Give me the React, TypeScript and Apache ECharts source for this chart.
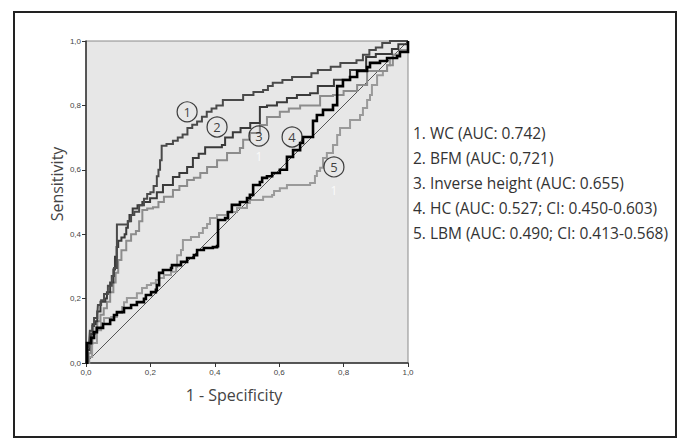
import React, { useEffect, useRef } from "react";
import * as echarts from "echarts";

// ROC curves: [1 - specificity, sensitivity]
const wcPoints: number[][] = [
  [0,0],[0.003,0.05],[0.01,0.07],[0.012,0.10],[0.02,0.115],[0.025,0.14],[0.035,0.15],[0.037,0.18],[0.047,0.195],[0.056,0.214],[0.068,0.24],[0.08,0.27],[0.087,0.295],[0.096,0.31],[0.096,0.43],[0.127,0.43],[0.13,0.44],[0.14,0.46],[0.15,0.47],[0.165,0.49],[0.18,0.51],[0.19,0.525],[0.2,0.53],[0.21,0.55],[0.22,0.58],[0.225,0.6],[0.23,0.63],[0.235,0.675],[0.25,0.68],[0.27,0.69],[0.285,0.70],[0.30,0.71],[0.315,0.73],[0.33,0.74],[0.345,0.75],[0.36,0.765],[0.375,0.78],[0.39,0.79],[0.405,0.80],[0.425,0.817],[0.48,0.817],[0.488,0.832],[0.52,0.842],[0.55,0.848],[0.565,0.86],[0.58,0.87],[0.61,0.879],[0.64,0.888],[0.686,0.888],[0.70,0.90],[0.72,0.91],[0.76,0.92],[0.79,0.932],[0.84,0.94],[0.86,0.957],[0.88,0.972],[0.90,0.98],[0.92,0.994],[0.944,1.0],[1,1]
];
const bfmPoints: number[][] = [
  [0,0],[0.005,0.04],[0.01,0.06],[0.015,0.09],[0.02,0.12],[0.03,0.13],[0.035,0.16],[0.045,0.19],[0.06,0.20],[0.065,0.22],[0.075,0.25],[0.085,0.29],[0.09,0.33],[0.095,0.36],[0.1,0.38],[0.11,0.39],[0.12,0.40],[0.125,0.42],[0.13,0.44],[0.135,0.46],[0.145,0.48],[0.16,0.49],[0.175,0.50],[0.199,0.512],[0.22,0.53],[0.239,0.553],[0.27,0.578],[0.29,0.59],[0.314,0.609],[0.332,0.637],[0.35,0.65],[0.37,0.67],[0.422,0.677],[0.432,0.70],[0.456,0.717],[0.48,0.73],[0.51,0.745],[0.54,0.755],[0.54,0.795],[0.562,0.80],[0.593,0.81],[0.624,0.823],[0.655,0.832],[0.696,0.838],[0.72,0.86],[0.77,0.88],[0.82,0.91],[0.87,0.95],[0.90,0.96],[0.95,0.975],[0.97,0.99],[1,1]
];
const invHeightPoints: number[][] = [
  [0,0],[0.008,0.03],[0.015,0.06],[0.02,0.09],[0.03,0.11],[0.035,0.13],[0.045,0.15],[0.055,0.17],[0.065,0.19],[0.075,0.22],[0.085,0.25],[0.092,0.28],[0.1,0.32],[0.11,0.35],[0.125,0.38],[0.14,0.40],[0.155,0.41],[0.165,0.44],[0.175,0.475],[0.19,0.48],[0.208,0.484],[0.225,0.50],[0.242,0.516],[0.27,0.537],[0.29,0.55],[0.314,0.568],[0.335,0.575],[0.355,0.59],[0.376,0.609],[0.407,0.63],[0.438,0.652],[0.478,0.668],[0.488,0.693],[0.509,0.714],[0.54,0.739],[0.562,0.764],[0.602,0.78],[0.63,0.79],[0.665,0.80],[0.696,0.80],[0.727,0.829],[0.767,0.832],[0.80,0.845],[0.842,0.863],[0.873,0.907],[0.935,0.925],[0.953,0.957],[0.975,0.969],[1,1]
];
const hcPoints: number[][] = [
  [0,0],[0.003,0.062],[0.016,0.078],[0.025,0.096],[0.034,0.109],[0.053,0.121],[0.075,0.134],[0.087,0.149],[0.096,0.158],[0.118,0.171],[0.14,0.18],[0.158,0.189],[0.18,0.199],[0.186,0.211],[0.202,0.22],[0.217,0.227],[0.22,0.242],[0.227,0.28],[0.239,0.289],[0.264,0.295],[0.267,0.304],[0.295,0.314],[0.314,0.326],[0.335,0.335],[0.345,0.351],[0.366,0.357],[0.394,0.36],[0.407,0.363],[0.41,0.444],[0.432,0.45],[0.441,0.469],[0.453,0.491],[0.478,0.50],[0.5,0.512],[0.509,0.522],[0.519,0.553],[0.54,0.562],[0.547,0.575],[0.562,0.58],[0.578,0.59],[0.602,0.60],[0.624,0.64],[0.643,0.661],[0.665,0.683],[0.674,0.702],[0.705,0.752],[0.717,0.77],[0.736,0.786],[0.767,0.801],[0.78,0.823],[0.78,0.86],[0.798,0.879],[0.82,0.888],[0.842,0.907],[0.873,0.919],[0.882,0.932],[0.913,0.938],[0.935,0.947],[0.966,0.953],[0.975,0.966],[1,1]
];
const lbmPoints: number[][] = [
  [0,0],[0.01,0.019],[0.019,0.062],[0.034,0.102],[0.047,0.124],[0.056,0.14],[0.078,0.143],[0.096,0.155],[0.112,0.174],[0.118,0.189],[0.127,0.202],[0.158,0.217],[0.174,0.233],[0.189,0.242],[0.202,0.248],[0.217,0.258],[0.227,0.264],[0.242,0.273],[0.264,0.283],[0.28,0.298],[0.283,0.335],[0.295,0.351],[0.301,0.382],[0.326,0.391],[0.351,0.404],[0.363,0.419],[0.376,0.432],[0.385,0.45],[0.407,0.46],[0.438,0.469],[0.469,0.481],[0.5,0.497],[0.509,0.506],[0.547,0.506],[0.55,0.516],[0.578,0.522],[0.584,0.534],[0.602,0.543],[0.624,0.553],[0.696,0.559],[0.711,0.581],[0.717,0.596],[0.727,0.606],[0.736,0.637],[0.748,0.652],[0.767,0.677],[0.78,0.708],[0.789,0.73],[0.82,0.755],[0.851,0.77],[0.86,0.792],[0.873,0.817],[0.882,0.832],[0.888,0.863],[0.904,0.894],[0.922,0.907],[0.935,0.925],[0.944,0.947],[0.953,0.957],[0.975,0.972],[1,1]
];
const referenceLine: number[][] = [[0, 0], [1, 1]];

// circled curve labels, placed in data coordinates
const curveLabelNames = ["1", "2", "3", "4", "5"];
const curveLabelPos: number[][] = [[0.314, 0.78], [0.407, 0.733], [0.537, 0.705], [0.64, 0.702], [0.77, 0.609]];
const whiteMarkPos: number[][] = [[0.537, 0.64], [0.77, 0.537]];

const legendLabels = [
  "1. WC (AUC: 0.742)",
  "2. BFM (AUC: 0,721)",
  "3. Inverse height (AUC: 0.655)",
  "4. HC (AUC: 0.527; CI: 0.450-0.603)",
  "5. LBM (AUC: 0.490; CI: 0.413-0.568)",
];

const xTitle = "1 - Specificity";
const yTitle = "Sensitivity";

const FONT = "'Open Sans', 'Noto Sans', sans-serif";

export default function App() {
  const ref = useRef<HTMLDivElement>(null);
  useEffect(() => {
    const chart = echarts.init(ref.current!, null, { renderer: "svg" });
    const fmt = (v: number) => v.toFixed(1).replace(".", ",");
    const curve = (name: string, data: number[][], color: string, width: number, z: number) => ({
      name,
      type: "line",
      data,
      step: "end",
      showSymbol: false,
      symbol: "none",
      lineStyle: { color, width, join: "miter" },
      z,
      silent: true,
    });
    chart.setOption({
      animation: false,
      backgroundColor: "#ffffff",
      grid: {
        left: 86,
        top: 41,
        width: 322,
        height: 322,
        show: true,
        backgroundColor: "#e7e7e7",
        borderColor: "#8a8a8a",
        borderWidth: 1,
      },
      xAxis: {
        type: "value",
        min: 0,
        max: 1,
        interval: 0.2,
        axisLine: { show: true, onZero: false, lineStyle: { color: "#333", width: 1.5 } },
        axisTick: { show: true, length: 4, lineStyle: { color: "#333" } },
        axisLabel: { formatter: fmt, fontSize: 8, color: "#444", margin: 5, fontFamily: "Arial, 'Liberation Sans', sans-serif" },
        splitLine: { show: false },
      },
      yAxis: {
        type: "value",
        min: 0,
        max: 1,
        interval: 0.2,
        axisLine: { show: true, onZero: false, lineStyle: { color: "#333", width: 1.5 } },
        axisTick: { show: true, length: 4, lineStyle: { color: "#333" } },
        axisLabel: { formatter: fmt, fontSize: 8, color: "#444", margin: 5, fontFamily: "Arial, 'Liberation Sans', sans-serif" },
        splitLine: { show: false },
      },
      series: [
        {
          type: "line",
          data: referenceLine,
          showSymbol: false,
          symbol: "none",
          lineStyle: { color: "#555", width: 1 },
          z: 2,
          silent: true,
        },
        curve("LBM", lbmPoints, "#9a9a9a", 2, 3),
        curve("Inverse height", invHeightPoints, "#8c8c8c", 2, 4),
        curve("BFM", bfmPoints, "#3a3a3a", 2, 5),
        curve("WC", wcPoints, "#4a4a4a", 2, 6),
        curve("HC", hcPoints, "#000000", 2.6, 7),
        {
          type: "scatter",
          data: curveLabelPos.map((p, i) => ({ value: p, name: curveLabelNames[i] })),
          symbol: "circle",
          symbolSize: 20,
          itemStyle: { color: "rgba(0,0,0,0)", borderColor: "#111", borderWidth: 1.2 },
          label: {
            show: true,
            position: "inside",
            formatter: (p: any) => p.name,
            color: "#111",
            fontSize: 13,
            fontFamily: FONT,
          },
          z: 10,
          silent: true,
        },
        {
          type: "scatter",
          data: whiteMarkPos,
          symbolSize: 0,
          label: {
            show: true,
            position: "inside",
            formatter: () => "1",
            color: "#ffffff",
            fontSize: 12,
            fontFamily: FONT,
          },
          z: 10,
          silent: true,
        },
      ],
      graphic: [
        {
          type: "rect",
          shape: { x: 14, y: 12, width: 662, height: 425 },
          style: { fill: "none", stroke: "#222", lineWidth: 2 },
          silent: true,
        },
        {
          type: "text",
          x: 234,
          y: 395,
          style: {
            text: xTitle,
            fill: "#444",
            font: `16px ${FONT}`,
            textAlign: "center",
            textVerticalAlign: "middle",
          },
        },
        {
          type: "text",
          x: 57,
          y: 184,
          rotation: Math.PI / 2,
          style: {
            text: yTitle,
            fill: "#444",
            font: `16px ${FONT}`,
            textAlign: "center",
            textVerticalAlign: "middle",
          },
        },
        ...legendLabels.map((t, i) => ({
          type: "text",
          x: 413,
          y: 133 + i * 25,
          style: {
            text: t,
            fill: "#333",
            font: `15.5px ${FONT}`,
            textAlign: "left",
            textVerticalAlign: "middle",
          },
        })),
      ],
    });
    return () => chart.dispose();
  }, []);
  return (
    <div
      ref={ref}
      style={{ position: "fixed", left: 0, top: 0, width: 683, height: 448 }}
    />
  );
}
